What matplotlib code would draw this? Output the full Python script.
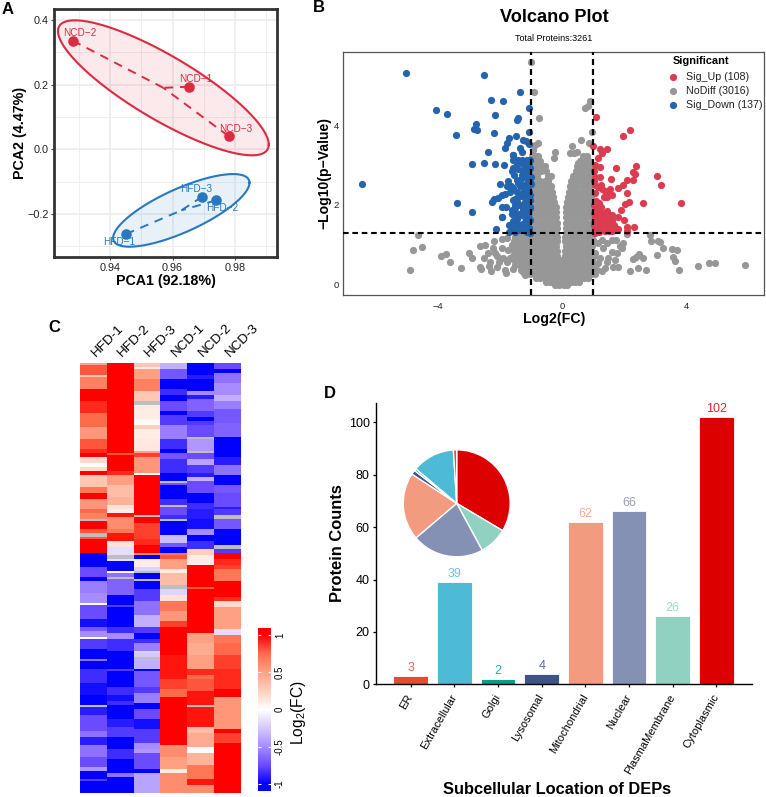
from matplotlib import pyplot as plt
from matplotlib.colors import LinearSegmentedColormap, Normalize
from matplotlib.cm import ScalarMappable
import numpy as np

plt.rcParams['font.family'] = ['Liberation Sans', 'DejaVu Sans']
plt.rcParams['mathtext.fontset'] = 'custom'
plt.rcParams['mathtext.rm'] = 'Liberation Sans'
plt.rcParams['mathtext.default'] = 'regular'

W, H = 766, 797

# PCA scores
ncd_names = ['NCD\u22121', 'NCD\u22122', 'NCD\u22123']
ncd_pc1 = [0.9652, 0.9281, 0.9779]
ncd_pc2 = [0.1937, 0.336, 0.041]
hfd_names = ['HFD\u22121', 'HFD\u22122', 'HFD\u22123']
hfd_pc1 = [0.9451, 0.9738, 0.9695]
hfd_pc2 = [-0.262, -0.158, -0.1466]

# volcano plot, significant down
down_x = [-5.03, -2.52, -1.36, -2.27, -1.91, -4.06, -3.69, -2.16, -1.42, -1.45, -1.06, -2.78, -2.83,
          -2.72, -3.41, -2.19, -1.06, -1.47, -1.71, -1.76, -1.84, -1.25, -1.15, -1.06, -1.35, -1.29,
          -2.37, -1.57, -2.90, -2.51, -2.14, -1.88, -6.43, -3.38, -2.91, -1.93, -2.11,
          -1.57, -1.51, -1.59, -1.41, -1.30, -1.14, -1.03, -1.46, -1.25, -1.14, -1.57, -1.41, -1.19,
          -1.03, -1.55, -1.30, -1.08, -1.00, -1.73, -1.46, -1.14, -1.25, -1.35, -1.00, -2.00, -1.78,
          -1.57, -1.46, -1.67, -1.84, -1.94, -2.05, -2.19, -2.24, -1.19, -1.05, -1.14, -1.03, -1.57,
          -1.46, -1.19, -1.03, -1.93, -1.80, -1.51, -1.14, -1.25, -1.08, -1.03, -1.51, -1.35, -1.19,
          -1.46, -1.14, -1.93, -1.57, -1.41, -1.25, -1.08, -1.59, -1.44, -1.30, -1.05, -1.70, -1.51,
          -1.14, -1.35, -1.03, -1.62, -1.30, -1.20, -1.10, -1.42, -1.50, -1.02, -1.28, -1.16, -1.38,
          -1.70, -1.60, -1.22, -1.09, -1.33, -1.48, -1.04, -1.18, -1.56, -1.26, -1.40, -1.12, -1.65,
          -1.07, -1.30, -1.52, -1.02, -1.20, -1.44, -1.10, -1.36, -1.60]
down_y = [5.31, 5.27, 4.83, 4.63, 4.62, 4.39, 4.29, 4.26, 4.19, 4.13, 4.44, 4.02, 3.90,
          3.87, 3.76, 3.80, 3.83, 3.73, 3.67, 3.56, 3.42, 3.63, 3.60, 3.52, 3.42, 3.32,
          3.32, 3.25, 3.03, 3.04, 3.02, 3.01, 2.52, 2.05, 1.81, 1.69, 1.40,
          3.25, 3.13, 3.13, 3.13, 3.13, 3.13, 3.13, 3.03, 3.03, 3.09, 2.92, 2.89, 2.92,
          2.92, 2.75, 2.75, 2.79, 2.69, 2.61, 2.62, 2.52, 2.50, 2.47, 2.52, 2.52, 2.46,
          2.42, 2.33, 2.31, 2.27, 2.25, 2.16, 2.15, 2.06, 2.33, 2.31, 2.21, 2.12, 2.12,
          2.08, 2.08, 1.95, 1.95, 1.95, 1.91, 1.95, 1.87, 1.83, 1.91, 1.79, 1.74, 1.70,
          1.64, 1.62, 1.69, 1.60, 1.52, 1.49, 1.53, 1.41, 1.41, 1.41, 1.41, 1.32, 1.32,
          1.32, 1.37, 1.30, 2.85, 2.68, 2.38, 2.60, 2.20, 2.00, 2.58, 2.22, 1.98, 1.78,
          1.50, 1.78, 1.55, 1.72, 1.50, 1.52, 1.62, 1.45, 1.35, 2.82, 2.55, 2.72, 2.48,
          2.98, 2.30, 2.14, 2.25, 1.85, 1.66, 2.42, 2.00, 1.88]

# significant up
up_x = [1.11, 2.20, 1.98, 1.01, 1.44, 1.22, 1.28, 1.17, 1.73, 2.37, 2.28, 2.35, 3.07, 3.18, 1.58, 2.08,
        2.30, 1.22, 1.06, 1.22, 1.81, 1.98, 2.08, 3.84, 2.60, 2.17, 2.03, 1.91, 1.81, 2.00, 2.33, 2.11,
        2.11, 1.81, 1.05, 1.15, 1.25, 1.30, 1.40, 1.50, 1.55, 1.35, 1.45, 1.60, 1.05, 1.10, 1.20, 1.02,
        1.10, 1.25, 1.02, 1.15, 1.25, 1.35, 1.45, 1.50, 1.60, 1.05, 1.15, 1.25, 1.35, 1.45, 1.55, 1.62,
        1.02, 1.20, 1.30, 1.40, 1.50, 1.60, 1.25, 1.35, 1.45, 1.55, 1.65, 1.30, 1.40, 1.50, 1.05, 1.60,
        1.02, 1.05, 1.02, 1.08, 1.18, 1.28, 1.38, 1.48, 1.58, 1.12, 1.22, 1.32, 1.42, 1.52, 1.04, 1.14,
        1.34, 1.44, 1.54, 1.08, 1.18, 1.28, 1.38, 1.10, 1.20, 1.48, 1.58, 1.68]
up_y = [4.22, 3.89, 3.73, 3.49, 3.41, 3.40, 3.30, 3.17, 2.92, 2.97, 2.83, 2.78, 2.73, 2.50, 2.64, 2.62,
        2.62, 2.71, 3.00, 2.96, 2.43, 2.49, 2.29, 2.05, 2.05, 2.06, 2.02, 1.88, 1.69, 1.62, 1.45, 1.45,
        1.35, 1.38, 2.50, 2.45, 2.50, 2.40, 2.35, 2.30, 2.40, 2.20, 2.20, 2.25, 2.30, 2.10, 2.05, 2.00,
        1.95, 1.95, 1.80, 1.85, 1.75, 1.80, 1.85, 1.75, 1.75, 1.65, 1.65, 1.65, 1.65, 1.65, 1.65, 1.62,
        1.55, 1.55, 1.55, 1.55, 1.55, 1.52, 1.45, 1.45, 1.45, 1.42, 1.42, 1.36, 1.35, 1.33, 1.30, 1.33,
        2.85, 2.70, 2.60, 1.72, 1.70, 1.70, 1.72, 1.70, 1.70, 1.60, 1.60, 1.60, 1.60, 1.60, 1.50, 1.50,
        1.50, 1.50, 1.48, 1.42, 1.40, 1.40, 1.40, 1.35, 1.32, 1.38, 1.38, 1.48]

# not significant, scattered points
other_x = [-4.62, -4.49, -4.79, -4.88, -3.89, -3.73, -3.60, -3.24, -2.98, -2.91, -2.63, -2.48, -2.20, -1.94,
           -1.78, -2.37, -2.52, -2.64, -2.60, -2.34, -2.29, -2.10, -1.84, -1.80, -2.21, -2.16, -1.94, -2.10,
           -1.89, -1.73, -2.32, -2.02, -1.78, -1.57, -1.67, -1.19, -1.25, -1.46, -1.51, -1.62,
           5.90, 4.94, 4.74, 4.37, 3.78, 3.70, 3.55, 3.59, 3.64, 3.26, 3.06, 3.16, 3.10, 2.87, 2.83, 2.72,
           2.62, 2.49, 2.38, 2.28, 2.44, 2.20, 2.08, 1.95, 1.87, 1.74, 1.60, 1.92, 1.76, 1.60, 1.44, 1.28,
           1.33, 1.17, 1.49, 1.71, 1.81, 1.65, 1.38, 1.28, 1.12, 1.22, 1.06, 1.44, 1.17, 1.01,
           -1.01, -0.91, -0.75, 0.90, 0.75, 0.85, 0.96, 0.62, 0.86, 0.32, -0.23, -0.27, 0.25, 0.39, 0.49,
           0.79, 0.63, 0.53, 0.74, -0.78, -0.87, -0.92]
other_y = [1.25, 0.94, 0.86, 0.37, 0.72, 0.76, 0.57, 0.42, 0.78, 0.65, 0.95, 1.00, 1.09, 1.13,
           1.16, 0.78, 0.65, 0.44, 0.38, 0.46, 0.34, 0.44, 0.36, 0.29, 0.91, 0.78, 0.91, 0.71,
           0.65, 0.86, 0.57, 0.55, 0.57, 0.38, 0.65, 0.23, 0.32, 0.53, 0.78, 0.99,
           0.49, 0.53, 0.53, 0.45, 0.35, 0.85, 0.88, 0.68, 0.59, 0.90, 0.74, 1.07, 1.09, 1.09, 1.24, 0.37,
           0.65, 0.75, 0.68, 0.63, 0.42, 0.34, 1.26, 1.03, 0.95, 1.12, 1.12, 0.91, 0.78, 0.82, 1.03, 1.12,
           0.91, 1.03, 0.65, 0.61, 0.44, 0.44, 0.40, 0.34, 0.36, 0.65, 0.78, 0.57, 0.53, 1.12,
           5.59, 4.84, 4.19, 4.62, 4.43, 4.49, 3.82, 3.64, 3.56, 3.48, 3.32, 3.18, 3.31, 3.30, 3.33,
           3.17, 3.13, 3.04, 3.04, 3.55, 3.51, 3.38]

# not significant, the dense body: -log10(p) level and the log2FC values read on it
body_levels = [-0.02, 0.06, 0.15, 0.25, 0.36, 0.48, 0.60, 0.72, 0.84, 0.96, 1.08, 1.20, 1.30, 1.42, 1.55, 1.68,
               1.81, 1.94, 2.07, 2.20, 2.33, 2.46, 2.59, 2.72, 2.85, 2.98, 3.10, 3.22]
body_fc = [
    [-0.22, -0.08, 0.05, 0.16],
    [-0.5, -0.38, -0.25, -0.12, 0.02, 0.15, 0.28, 0.42, 0.55],
    [-0.82, -0.7, -0.56, -0.42, -0.28, -0.14, 0.0, 0.14, 0.28, 0.42, 0.56, 0.7, 0.84],
    [-1.15, -1.02, -0.88, -0.74, -0.6, -0.46, -0.32, -0.18, -0.04, 0.1, 0.24, 0.38, 0.52, 0.66, 0.8, 0.94, 1.05],
    [-1.32, -1.18, -1.04, -0.9, -0.76, -0.62, -0.48, -0.34, -0.2, -0.06, 0.08, 0.22, 0.36, 0.5, 0.64, 0.78, 0.92, 1.03],
    [-1.5, -1.36, -1.22, -1.08, -0.94, -0.8, -0.66, -0.52, -0.38, -0.24, -0.1, 0.04, 0.18, 0.32, 0.46, 0.6, 0.74, 0.88, 1.0],
    [-1.55, -1.41, -1.27, -1.13, -0.99, -0.85, -0.71, -0.57, -0.43, -0.29, -0.15, 0.0, 0.13, 0.27, 0.41, 0.55, 0.69, 0.83, 0.97],
    [-1.58, -1.44, -1.3, -1.16, -1.02, -0.88, -0.74, -0.6, -0.46, -0.32, -0.17, 0.11, 0.24, 0.38, 0.52, 0.66, 0.8, 0.94, 1.04],
    [-1.55, -1.41, -1.27, -1.13, -0.99, -0.85, -0.71, -0.57, -0.43, -0.3, -0.17, 0.11, 0.25, 0.39, 0.53, 0.67, 0.81, 0.95],
    [-1.6, -1.46, -1.32, -1.18, -1.04, -0.9, -0.76, -0.62, -0.48, -0.34, -0.18, 0.12, 0.26, 0.4, 0.54, 0.68, 0.82, 0.96],
    [-1.56, -1.42, -1.28, -1.14, -1.0, -0.86, -0.72, -0.58, -0.44, -0.3, -0.17, 0.11, 0.24, 0.38, 0.52, 0.66, 0.8, 0.94],
    [-1.52, -1.38, -1.24, -1.1, -0.96, -0.82, -0.68, -0.54, -0.4, -0.26, -0.17, 0.11, 0.25, 0.39, 0.53, 0.67, 0.81, 0.95],
    [-1.45, -1.3, -1.16, -1.02, -0.88, -0.74, -0.6, -0.46, -0.32, -0.18, 0.12, 0.26, 0.4, 0.54, 0.68, 0.82, 0.96],
    [-0.95, -0.82, -0.69, -0.56, -0.43, -0.3, -0.16, 0.12, 0.25, 0.38, 0.51, 0.64, 0.77, 0.9],
    [-0.95, -0.82, -0.69, -0.56, -0.43, -0.3, -0.17, 0.13, 0.26, 0.39, 0.52, 0.65, 0.78, 0.92],
    [-0.93, -0.8, -0.67, -0.54, -0.41, -0.28, -0.18, 0.14, 0.27, 0.4, 0.53, 0.66, 0.79, 0.93],
    [-0.95, -0.82, -0.69, -0.56, -0.43, -0.3, -0.2, 0.13, 0.26, 0.39, 0.52, 0.65, 0.78, 0.91],
    [-0.93, -0.8, -0.67, -0.54, -0.41, -0.3, -0.2, 0.12, 0.25, 0.38, 0.51, 0.64, 0.77, 0.9],
    [-0.95, -0.82, -0.69, -0.56, -0.43, -0.32, -0.24, 0.16, 0.28, 0.41, 0.54, 0.67, 0.8, 0.93],
    [-0.93, -0.8, -0.67, -0.54, -0.41, -0.3, 0.18, 0.3, 0.43, 0.56, 0.69, 0.82, 0.95],
    [-0.95, -0.82, -0.69, -0.56, -0.44, -0.32, 0.22, 0.34, 0.47, 0.6, 0.73, 0.86],
    [-0.93, -0.8, -0.67, -0.54, -0.42, -0.34, 0.26, 0.38, 0.5, 0.63, 0.76, 0.89],
    [-0.95, -0.82, -0.7, -0.56, -0.44, 0.3, 0.42, 0.55, 0.68, 0.81, 0.94],
    [-0.93, -0.8, -0.46, -0.34, 0.36, 0.48, 0.6, 0.72, 0.85, 0.96],
    [-0.95, -0.82, -0.68, -0.52, 0.44, 0.56, 0.68, 0.8, 0.92],
    [-0.93, -0.8, -0.67, -0.56, 0.5, 0.62, 0.75, 0.88],
    [-0.95, -0.83, -0.7, 0.58, 0.72, 0.88],
    [-0.96, -0.86, -0.78, 0.68, 0.82],
]

# heatmap columns, each as cell values and the row where each run of equal cells stops (nan = missing)
heat_samples = ['HFD-1', 'HFD-2', 'HFD-3', 'NCD-1', 'NCD-2', 'NCD-3']
heat_rows = 215
hfd1_val = [0.5, 0.8, 0.3, 0.65, 1, 0.9, 0.75, 0.55, 0.8, 0.9, 1, 0.2, 0, 0.2, 1, 0.3, 0.7, 1, 0.55, 0.75, 0.65,
            np.nan, 1, 0.8, np.nan, 0.8, 1, -1, -1, -0.75, -1, -0.55, -0.5, 0, -0.75, -0.95, -0.7, -0.5, 0, -0.8,
            -1, -0.6, -1, -0.85, -0.95, -1, np.nan, -0.9, -0.75, -0.6, -0.9, -0.6, -0.75, -0.45, -1, -0.8, -1]
hfd1_end = [1, 6, 7, 13, 19, 25, 32, 38, 43, 45, 47, 50, 52, 54, 56, 62, 65, 68, 73, 75, 78,
            79, 83, 85, 87, 88, 95, 98, 102, 107, 109, 115, 120, 121, 128, 132, 134, 137, 138, 143,
            148, 149, 153, 160, 166, 171, 172, 176, 184, 187, 191, 197, 202, 204, 208, 209, 215]
hfd2_val = [1, 0.8, 1, 0.9, 0.5, 0.35, 0.4, 0.15, 0.1, 0.95, 0.6, 0.7, 0.95, 0.15, -0.15, np.nan, -0.15, -1, 0, -0.6,
            np.nan, -0.65, -1, -0.8, -1, -0.85, -0.5, -0.85, -1, -0.8, -1, -0.85, -0.95, -0.85, -1, -0.9, -0.8, -1,
            -0.85, -1, -0.6, -1]
hfd2_end = [45, 46, 54, 56, 61, 67, 71, 73, 75, 77, 83, 85, 89, 92, 96, 98, 99, 104, 105, 107,
            108, 116, 121, 122, 132, 135, 138, 144, 153, 154, 162, 166, 169, 171, 178, 182, 187, 193,
            198, 205, 207, 215]
hfd3_val = [0.3, 0.1, 0.5, 0.65, 0.3, np.nan, 0.1, 0.03, 0.25, 0.1, 0.12, 0.5, 0.85, 0.55, 0, 1, np.nan, 1, 0.85, 0.9,
            1, 0.6, -1, 0.1, -0.2, np.nan, -1, np.nan, -1, -0.8, -0.6, -0.35, -0.8, -1, -0.85, -0.55, -0.2, -0.25,
            np.nan, -0.35, -1, -0.7, -0.8, -0.55, -1, -0.75, -0.95, -0.8, -0.5, -0.45, -0.75, -1, -0.4]
hfd3_end = [2, 3, 8, 14, 19, 21, 28, 31, 33, 38, 44, 45, 47, 55, 56, 76, 77, 80, 88, 91,
            95, 96, 98, 102, 104, 105, 108, 109, 113, 119, 126, 132, 135, 138, 140, 144, 145, 147,
            148, 153, 154, 162, 165, 170, 173, 178, 183, 190, 193, 195, 203, 205, 215]
ncd1_val = [-0.35, -0.7, -1, -0.85, -1, -0.75, -1, -0.8, -0.55, -0.85, -1, -0.7, -0.85, -1, np.nan, -0.7, -1, -0.85,
            np.nan, -0.75, -0.85, np.nan, -1, -0.3, -0.7, -1, 0.7, 0.8, 0.5, 0.1, 0.35, np.nan, -0.2, 0.15, 0.7, 0.55,
            0.85, 1, 0.95, 0.85, 0.75, 1, 0.6, 0.5, 0.1, 0.6]
ncd1_end = [3, 8, 13, 16, 19, 24, 26, 31, 38, 43, 45, 48, 55, 59, 60, 61, 68, 71,
            72, 76, 78, 79, 86, 90, 92, 95, 96, 98, 103, 105, 111, 113, 116, 119, 124, 129,
            132, 146, 158, 163, 167, 191, 197, 203, 205, 215]
ncd2_val = [-1, -0.9, -1, -0.5, -0.9, -0.65, -0.8, -1, -0.8, -0.75, np.nan, -0.45, np.nan, -0.75, -0.4, -0.8, -0.9,
            -0.35, -0.75, -1, -0.85, -0.9, -0.95, -0.5, -1, -0.85, 0.25, 0.1, 1, 0.8, 1, 0.5, 0.45, 0.5, 0.9, 0.75,
            0.8, 0.95, np.nan, 0.95, 0.35, 0.45, 0, 0.4, 0.7, 0.95, 0.6]
ncd2_end = [6, 8, 14, 16, 18, 24, 27, 29, 31, 37, 38, 44, 45, 48, 51, 55, 57,
            59, 65, 70, 73, 78, 83, 86, 89, 93, 96, 101, 112, 113, 135, 140, 146, 153, 156, 158,
            164, 171, 172, 182, 185, 192, 195, 201, 208, 211, 215]
ncd3_val = [-0.75, -1, -0.6, -0.5, -0.35, -0.55, -0.7, -0.65, -1, -0.9, -0.6, -1, -0.7, -0.75, -0.9, -0.8, np.nan,
            -0.7, -1, np.nan, -0.8, 1, 0.9, 0.85, 0.7, 1, 0.9, 0.2, 0.5, -0.15, 0.7, 0.75, 0.85, 0.9, 1, 0.55, 1, 0.85, 1]
ncd3_end = [3, 5, 10, 16, 19, 23, 30, 37, 47, 51, 56, 61, 65, 72, 73, 76, 78,
            83, 91, 93, 95, 98, 101, 103, 109, 117, 119, 122, 133, 136, 140, 146, 153, 163, 167, 183, 185, 190, 215]

# subcellular location counts
locations = ['ER', 'Extracellular', 'Golgi', 'Lysosomal', 'Mitochondrial', 'Nuclear', 'PlasmaMembrane', 'Cytoplasmic']
counts = [3, 39, 2, 4, 62, 66, 26, 102]
bar_colors = ['#E64B35', '#4DBBD5', '#00A087', '#3C5488', '#F39B7F', '#8491B4', '#91D1C2', '#DC0000']


def axes_px(fig, left, top, right, bottom):
    return fig.add_axes([left / W, 1 - bottom / H, (right - left) / W, (bottom - top) / H])


def group_ellipse(ax, px, py, half_w, half_h, corr, color, label_offsets, names):
    cx, cy = np.mean(px), np.mean(py)
    t = np.linspace(0, 2 * np.pi, 200)
    phase = np.arccos(corr)
    ex = cx + half_w * np.cos(t)
    ey = cy + half_h * np.cos(t + phase)
    ax.fill(ex, ey, color=color, alpha=0.1, lw=0, zorder=2)
    ax.plot(ex, ey, color=color, lw=1.5, zorder=3)
    for x, y in zip(px, py):
        ax.plot([x, cx], [y, cy], color=color, lw=1.4, ls=(0, (4.5, 3.5)), zorder=3)
    ax.scatter(px, py, s=58, color=color, lw=0, zorder=4)
    for x, y, name, off in zip(px, py, names, label_offsets):
        ax.annotate(name, (x, y), xytext=off, textcoords='offset points', color=color, fontsize=7.2,
                    ha='center', va='center', zorder=5)


def plot_pca(fig):
    ax = axes_px(fig, 54, 9, 277, 257)
    ax.set_xlim(0.9221, 0.9934)
    ax.set_ylim(-0.333, 0.434)
    ax.set_xticks([0.94, 0.96, 0.98])
    ax.set_yticks([-0.2, 0.0, 0.2, 0.4])
    ax.set_yticklabels(['\u22120.2', '0.0', '0.2', '0.4'])
    ax.set_xticks([0.93, 0.95, 0.97, 0.99], minor=True)
    ax.set_yticks([-0.3, -0.1, 0.1, 0.3], minor=True)
    ax.grid(True, which='major', color='#EBEBEB', lw=1.1)
    ax.grid(True, which='minor', color='#EFEFEF', lw=0.7)
    ax.set_axisbelow(True)
    ax.tick_params(which='minor', length=0)
    ax.tick_params(which='major', length=2, width=0.8, color='#444444', labelsize=7.8, labelcolor='#222222', pad=2)
    for s in ax.spines.values():
        s.set_linewidth(2.0)
        s.set_color('#333333')
    group_ellipse(ax, ncd_pc1, ncd_pc2, 0.0337, 0.2088, -0.84, '#DC2A41',
                  [(5, 5.3), (5, 5.2), (5, 4.8)], ncd_names)
    group_ellipse(ax, hfd_pc1, hfd_pc2, 0.0218, 0.1124, 0.76, '#2878C0',
                  [(-4.8, -5.5), (4.5, -5.5), (-4.3, 5.4)], hfd_names)
    ax.set_xlabel('PCA1 (92.18%)', fontsize=10.3, fontweight='bold', labelpad=1)
    ax.set_ylabel('PCA2 (4.47%)', fontsize=10.3, fontweight='bold', labelpad=0)


def plot_volcano(fig):
    ax = axes_px(fig, 343.3, 51.7, 764.3, 295)
    ax.set_xlim(-7.04, 6.515)
    ax.set_ylim(-0.27, 5.85)

    body_x = [x for xs in body_fc for x in xs]
    body_y = [lv for lv, xs in zip(body_levels, body_fc) for _ in xs]
    gray = '#979797'
    up_color = '#DC3C50'
    down_color = '#2463AE'
    ax.scatter(body_x + other_x, body_y + other_y, s=27, color=gray, lw=0, zorder=2)
    ax.scatter(up_x, up_y, s=27, color=up_color, lw=0, zorder=3)
    ax.scatter(down_x, down_y, s=27, color=down_color, lw=0, zorder=3)
    dash = (0, (2.7, 1.8))
    ax.axvline(-1, color='black', lw=1.6, ls=dash, zorder=4)
    ax.axvline(1, color='black', lw=1.6, ls=dash, zorder=4)
    ax.axhline(1.3, color='black', lw=1.5, ls=dash, zorder=4)

    ax.set_xticks([-4, 0, 4])
    ax.set_xticklabels(['\u22124', '0', '4'])
    ax.set_yticks([0, 2, 4])
    ax.tick_params(axis='x', length=0, labelsize=6.8, pad=5, labelcolor='#222222')
    ax.tick_params(axis='y', length=0, labelsize=6.8, pad=3, labelcolor='#222222')
    for s in ax.spines.values():
        s.set_linewidth(0.9)
        s.set_color('#555555')
    ax.set_xlabel('Log2(FC)', fontsize=10.2, fontweight='bold', labelpad=1)
    ax.set_ylabel('\u2212Log10(p\u2212Value)', fontsize=10.1, fontweight='bold', labelpad=2)
    fig.text(554 / W, 1 - 18 / H, 'Volcano Plot', fontsize=13.1, fontweight='bold', ha='center', va='center')
    fig.text(554 / W, 1 - 38.7 / H, 'Total Proteins:3261', fontsize=6.5, ha='center', va='center')

    # legend with the markers hanging left of the title edge
    to_ax = ax.transAxes
    lx, tx = (672.7 - 343.3) / 421, (685.7 - 343.3) / 421
    ax.text(lx, 1 - (61 - 51.7) / 243.3, 'Significant', transform=to_ax, fontsize=7.9, fontweight='bold',
            ha='left', va='center', zorder=6)
    entries = [(76.7, 'Sig_Up (108)', up_color), (90.7, 'NoDiff (3016)', gray), (105, 'Sig_Down (137)', down_color)]
    for py, label, col in entries:
        yy = 1 - (py - 51.7) / 243.3
        ax.scatter([lx], [yy], s=27, color=col, lw=0, transform=to_ax, zorder=6)
        ax.text(tx, yy, label, transform=to_ax, fontsize=7.7, ha='left', va='center', color='#222222', zorder=6)


def plot_heatmap(fig):
    ax = axes_px(fig, 80, 363.3, 241, 793)
    cols = [(hfd1_val, hfd1_end), (hfd2_val, hfd2_end), (hfd3_val, hfd3_end),
            (ncd1_val, ncd1_end), (ncd2_val, ncd2_end), (ncd3_val, ncd3_end)]
    mat = np.full((heat_rows, len(cols)), np.nan)
    for j, (vals, ends) in enumerate(cols):
        mat[:, j] = np.repeat(vals, np.diff([0] + ends))
    cmap = LinearSegmentedColormap.from_list('bwr_lab', [
        (0, '#0000FF'), (0.125, '#6A4BFF'), (0.25, '#A68CFF'), (0.375, '#D5C8FF'), (0.5, '#FFFFFF'),
        (0.625, '#FFD0BE'), (0.75, '#FFA285'), (0.875, '#FF6D4D'), (1, '#FF0000')])
    cmap.set_bad('#BEBEBE')
    norm = Normalize(-1, 1)
    ax.imshow(mat, aspect='auto', cmap=cmap, norm=norm, interpolation='nearest')
    for s in ax.spines.values():
        s.set_visible(False)
    ax.set_yticks([])
    ax.xaxis.tick_top()
    ax.set_xticks(range(len(heat_samples)))
    ax.set_xticklabels(heat_samples, rotation=45, ha='left', va='center', rotation_mode='anchor', fontsize=9.7)
    ax.tick_params(axis='x', length=0, pad=6)

    cax = axes_px(fig, 258.3, 628.3, 270.7, 790.7)
    cb = fig.colorbar(ScalarMappable(norm=norm, cmap=cmap), cax=cax, extend='both', extendrect=True,
                      extendfrac=0.045)
    cb.outline.set_visible(False)
    cb.set_ticks([-1, -0.5, 0, 0.5, 1])
    cb.set_ticklabels(['-1', '-0.5', '0', '0.5', '1'])
    cax.tick_params(axis='y', direction='in', left=True, right=True, color='white', length=2.5, width=0.8,
                    labelsize=7, labelrotation=90, pad=3)
    for lab in cax.get_yticklabels():
        lab.set_va('center')
    fig.text(299 / W, 1 - 713 / H, r'Log$_2$(FC)', rotation=90, fontsize=11.2, ha='center', va='center')


def plot_location(fig):
    ax = axes_px(fig, 376, 402.7, 751.7, 684.3)
    xpos = range(len(locations))
    ax.bar(xpos, counts, width=0.8, color=bar_colors, edgecolor='white', lw=0.6)
    for x, c, col in zip(xpos, counts, bar_colors):
        ax.annotate(str(c), (x, c), xytext=(0, 1.5), textcoords='offset points', ha='center', va='bottom',
                    color=col, alpha=0.85, fontsize=9)
    ax.set_xlim(-0.795, 7.81)
    ax.set_ylim(0, 107.5)
    ax.set_xticks(list(xpos))
    ax.set_xticklabels(locations, rotation=60, ha='right', va='center', rotation_mode='anchor', fontsize=8.0)
    ax.set_yticks([0, 20, 40, 60, 80, 100])
    ax.tick_params(axis='y', labelsize=9, length=2.5, width=0.9, pad=2)
    ax.tick_params(axis='x', length=2.5, width=0.9, pad=5)
    ax.spines['top'].set_visible(False)
    ax.spines['right'].set_visible(False)
    ax.spines['left'].set_linewidth(1.0)
    ax.spines['bottom'].set_linewidth(1.0)
    ax.set_ylabel('Protein Counts', fontsize=11.9, fontweight='bold', labelpad=3)
    fig.text(556.7 / W, 1 - 789 / H, 'Subcellular Location of DEPs', fontsize=11.8, fontweight='bold',
             ha='center', va='center')

    pie_ax = axes_px(fig, 456.7 - 54, 503.3 - 54, 456.7 + 54, 503.3 + 54)
    pie_ax.pie(counts[::-1], colors=bar_colors[::-1], startangle=90, counterclock=False, radius=1.0,
               wedgeprops={'edgecolor': 'white', 'linewidth': 1.0})
    pie_ax.set_xlim(-1.01, 1.01)
    pie_ax.set_ylim(-1.01, 1.01)


def plot_all():
    fig = plt.figure(figsize=(W / 100, H / 100), dpi=100)
    plot_pca(fig)
    plot_volcano(fig)
    plot_heatmap(fig)
    plot_location(fig)
    for letter, x, y in [('A', 2, 9), ('B', 312.5, 8), ('C', 48, 328), ('D', 324, 394)]:
        fig.text(x / W, 1 - y / H, letter, fontsize=12, fontweight='bold', ha='left', va='center')
    fig.savefig('out.png', dpi=100)


if __name__ == '__main__':
    plot_all()
